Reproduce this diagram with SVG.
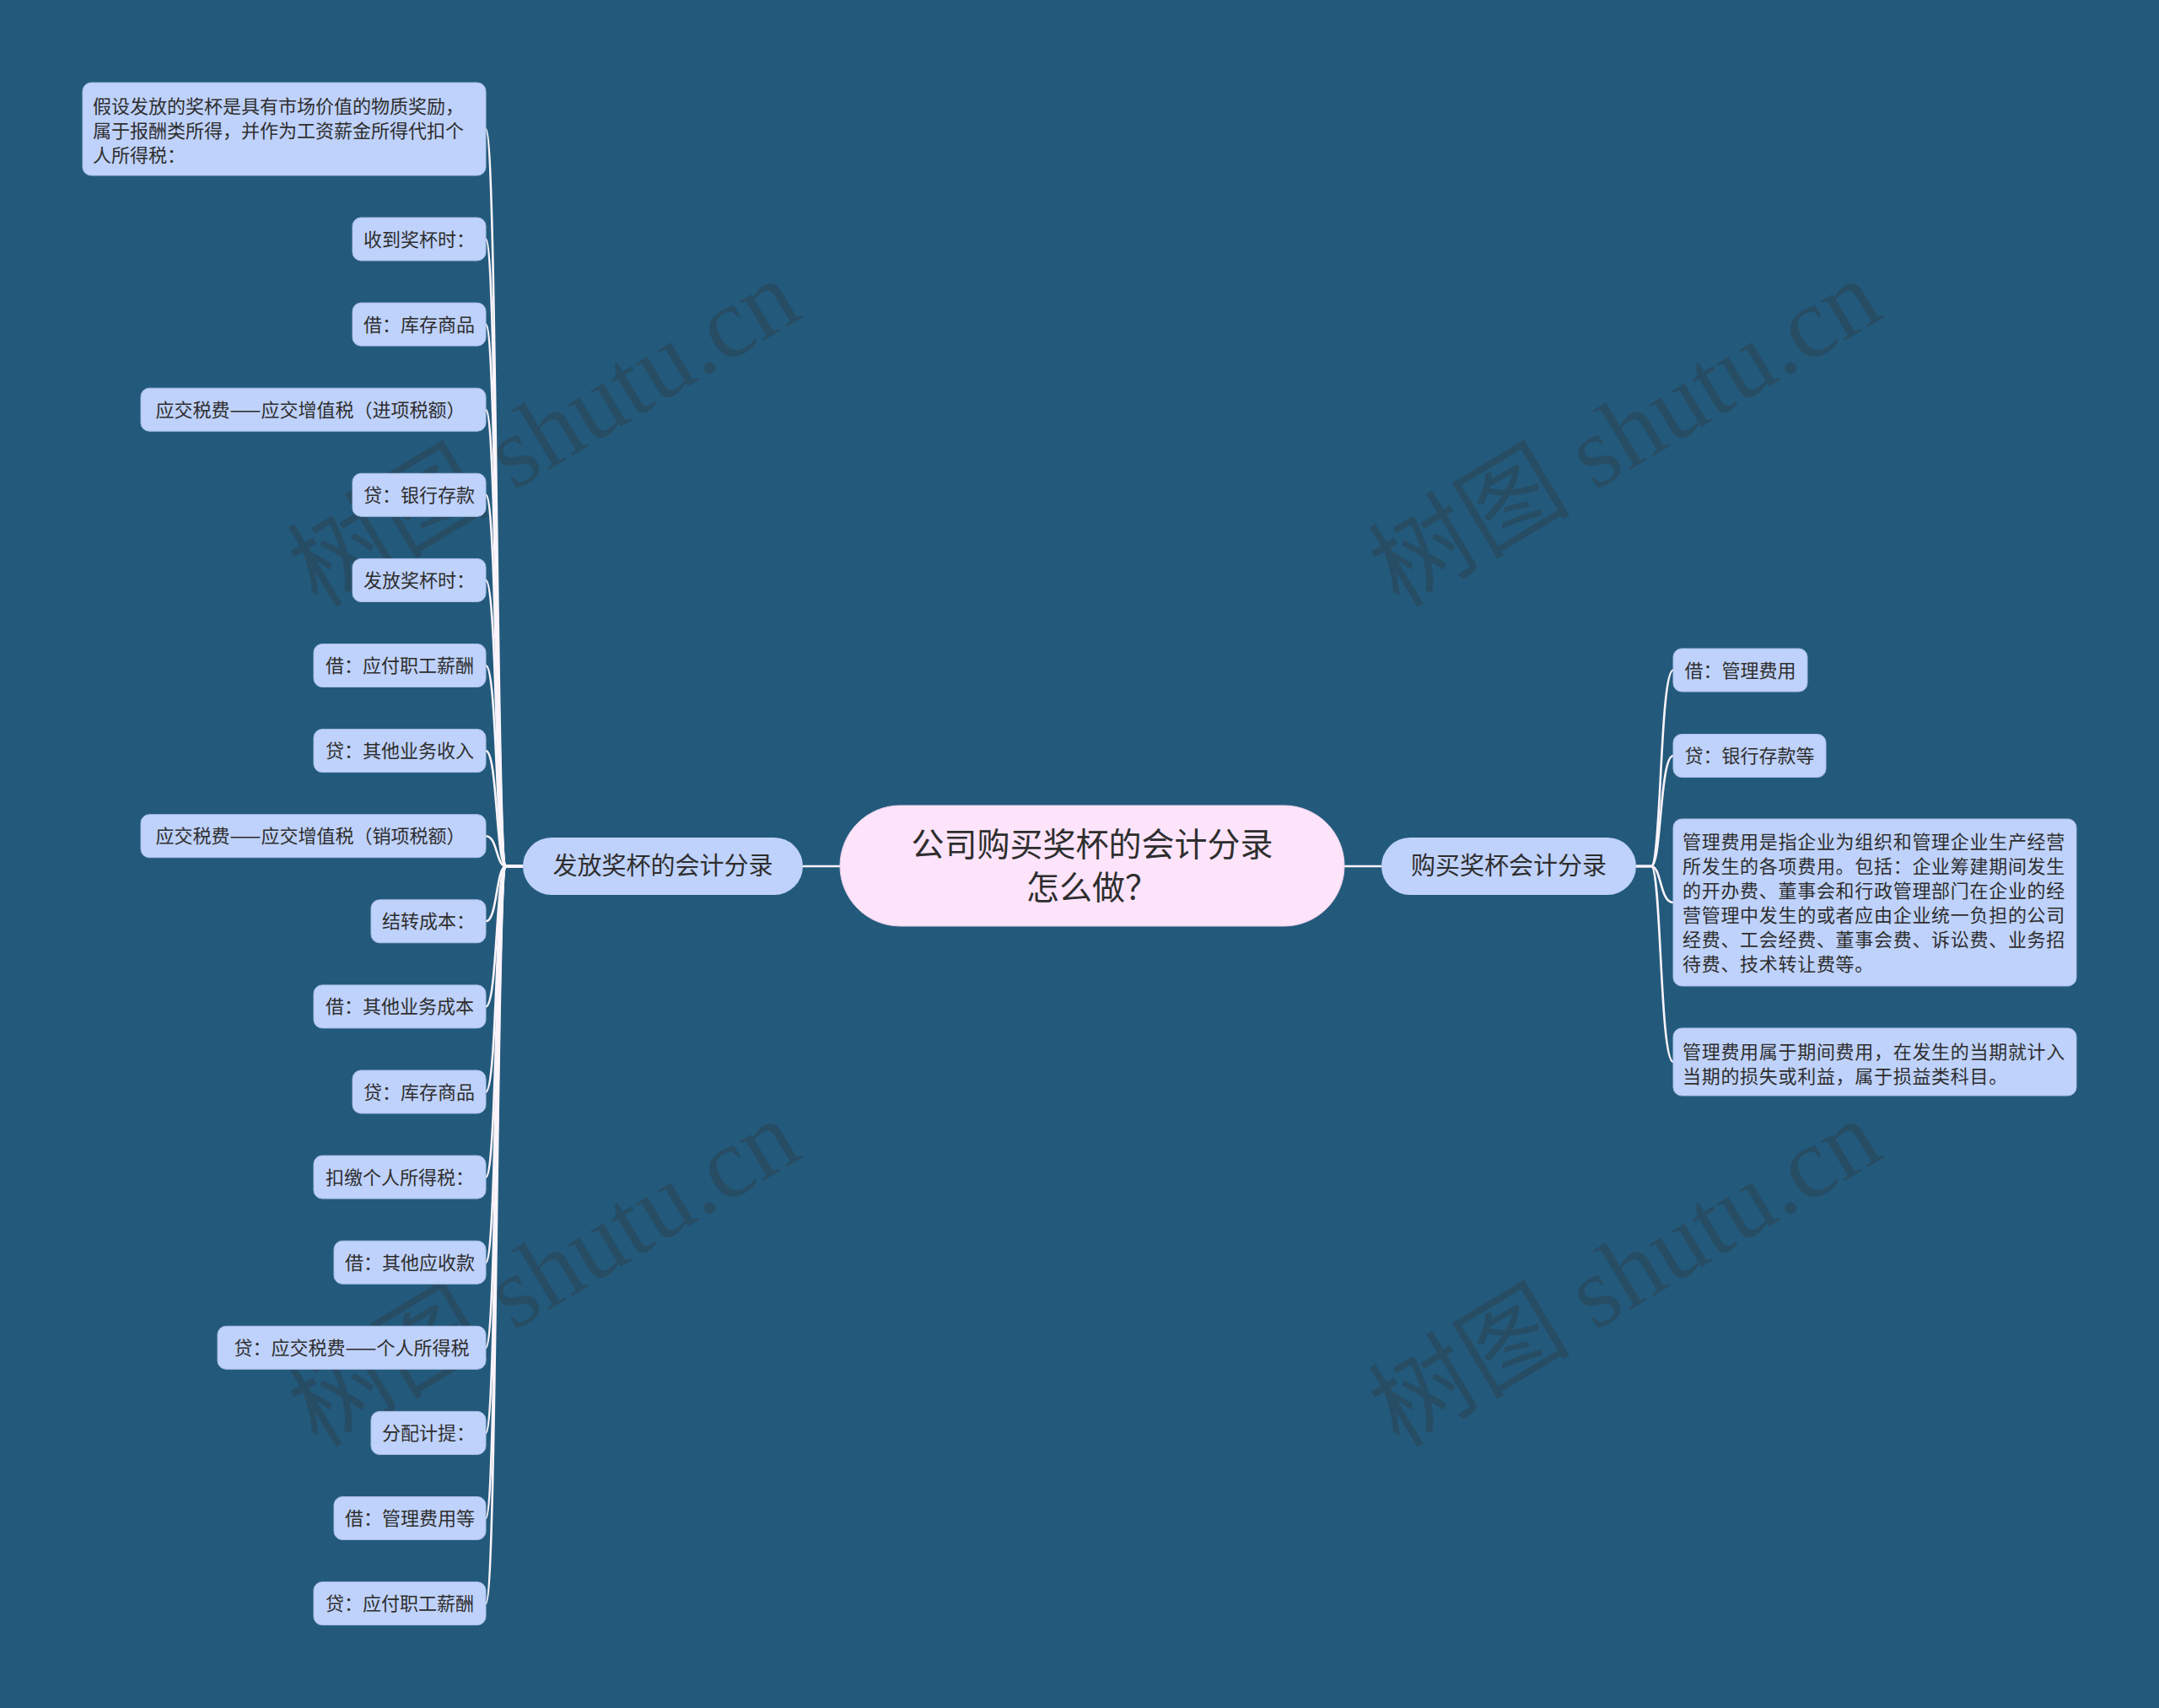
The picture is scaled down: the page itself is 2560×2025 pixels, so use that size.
<svg xmlns="http://www.w3.org/2000/svg" width="2560" height="2025" viewBox="0 0 2560 2025">
<style>
.leaf rect{fill:#bfd2fb;stroke:#a9bfe6;stroke-width:1}
.leaf text,.br text{font-family:"Noto Sans CJK SC","Liberation Sans",sans-serif;font-size:22px;fill:#2e2e2e}
.leaf text.c{text-anchor:middle}
.leaf text.w{letter-spacing:0.7px}
.br rect{fill:#bfd2fb}
.br text{font-size:29px;text-anchor:middle}
.root rect{fill:#fde4fb;stroke:#e9d0ea;stroke-width:1}
.root text{font-family:"Noto Sans CJK SC","Liberation Sans",sans-serif;font-size:39px;fill:#2e2e2e;text-anchor:middle}
.conn path{fill:none;stroke:#fbf4fa;stroke-width:2.6}
.wm{font-family:"Liberation Serif","Noto Sans CJK SC",serif;font-size:120px;fill:#2f3b45;opacity:0.4}
</style>
<rect x="0" y="0" width="2560" height="2025" fill="#235a7c"/>

<g id="watermark">
<text class="wm" transform="translate(645 514) rotate(-31)" text-anchor="middle" y="40">树图 shutu.cn</text>
<text class="wm" transform="translate(1927 514) rotate(-31)" text-anchor="middle" y="40">树图 shutu.cn</text>
<text class="wm" transform="translate(645 1510) rotate(-31)" text-anchor="middle" y="40">树图 shutu.cn</text>
<text class="wm" transform="translate(1927 1510) rotate(-31)" text-anchor="middle" y="40">树图 shutu.cn</text>
</g>

<g id="connectors" class="conn">
<path d="M996 1027 L952 1027"/>
<path d="M1594 1027 L1638 1027" />
<path d="M620 1027 L600 1027 C588 1027 590 153 576 153"/>
<path d="M620 1027 L600 1027 C588 1027 590 283.5 576 283.5"/>
<path d="M620 1027 L600 1027 C588 1027 590 384.6 576 384.6"/>
<path d="M620 1027 L600 1027 C588 1027 590 485.7 576 485.7"/>
<path d="M620 1027 L600 1027 C588 1027 590 586.8 576 586.8"/>
<path d="M620 1027 L600 1027 C588 1027 590 687.9 576 687.9"/>
<path d="M620 1027 L600 1027 C588 1027 590 789 576 789"/>
<path d="M620 1027 L600 1027 C588 1027 590 890.1 576 890.1"/>
<path d="M620 1027 L600 1027 C588 1027 590 991.2 576 991.2"/>
<path d="M620 1027 L600 1027 C588 1027 590 1092.3 576 1092.3"/>
<path d="M620 1027 L600 1027 C588 1027 590 1193.4 576 1193.4"/>
<path d="M620 1027 L600 1027 C588 1027 590 1294.5 576 1294.5"/>
<path d="M620 1027 L600 1027 C588 1027 590 1395.6 576 1395.6"/>
<path d="M620 1027 L600 1027 C588 1027 590 1496.7 576 1496.7"/>
<path d="M620 1027 L600 1027 C588 1027 590 1597.8 576 1597.8"/>
<path d="M620 1027 L600 1027 C588 1027 590 1698.9 576 1698.9"/>
<path d="M620 1027 L600 1027 C588 1027 590 1800 576 1800"/>
<path d="M620 1027 L600 1027 C588 1027 590 1901.1 576 1901.1"/>
<path d="M1940 1027 L1958 1027 C1970 1027 1968 794.5 1984 794.5"/>
<path d="M1940 1027 L1958 1027 C1970 1027 1968 896 1984 896"/>
<path d="M1940 1027 L1958 1027 C1970 1027 1968 1070 1984 1070"/>
<path d="M1940 1027 L1958 1027 C1970 1027 1968 1259 1984 1259"/>
</g>

<g id="root" class="root">
<rect x="996" y="955" width="598" height="143" rx="71.5"/>
<text x="1295" y="1015">公司购买奖杯的会计分录</text>
<text x="1295" y="1066">怎么做？</text>
</g>

<g id="branch-left" class="br">
<rect x="620" y="993" width="332" height="68" rx="34"/>
<text x="786" y="1037">发放奖杯的会计分录</text>
</g>
<g id="branch-right" class="br">
<rect x="1638" y="993" width="302" height="68" rx="34"/>
<text x="1789" y="1037">购买奖杯会计分录</text>
</g>

<g id="n-intro" class="leaf">
<rect x="98" y="98" width="478" height="110" rx="10"/>
<text x="110" y="134">假设发放的奖杯是具有市场价值的物质奖励，</text>
<text x="110" y="163">属于报酬类所得，并作为工资薪金所得代扣个</text>
<text x="110" y="192">人所得税：</text>
</g>
<g id="n1" class="leaf"><rect x="418" y="258" width="158" height="51" rx="10"/><text class="c" x="497" y="291.5">收到奖杯时：</text></g>
<g id="n2" class="leaf"><rect x="418" y="359.1" width="158" height="51" rx="10"/><text class="c" x="497" y="392.6">借：库存商品</text></g>
<g id="n3" class="leaf"><rect x="167" y="460.2" width="409" height="51" rx="10"/><text class="c" x="368" y="493.7">应交税费——应交增值税（进项税额）</text></g>
<g id="n4" class="leaf"><rect x="418" y="561.3" width="158" height="51" rx="10"/><text class="c" x="497" y="594.8">贷：银行存款</text></g>
<g id="n5" class="leaf"><rect x="418" y="662.4" width="158" height="51" rx="10"/><text class="c" x="497" y="695.9">发放奖杯时：</text></g>
<g id="n6" class="leaf"><rect x="372" y="763.5" width="204" height="51" rx="10"/><text class="c" x="474" y="797">借：应付职工薪酬</text></g>
<g id="n7" class="leaf"><rect x="372" y="864.6" width="204" height="51" rx="10"/><text class="c" x="474" y="898.1">贷：其他业务收入</text></g>
<g id="n8" class="leaf"><rect x="167" y="965.7" width="409" height="51" rx="10"/><text class="c" x="368" y="999.2">应交税费——应交增值税（销项税额）</text></g>
<g id="n9" class="leaf"><rect x="440" y="1066.8" width="136" height="51" rx="10"/><text class="c" x="508" y="1100.3">结转成本：</text></g>
<g id="n10" class="leaf"><rect x="372" y="1167.9" width="204" height="51" rx="10"/><text class="c" x="474" y="1201.4">借：其他业务成本</text></g>
<g id="n11" class="leaf"><rect x="418" y="1269" width="158" height="51" rx="10"/><text class="c" x="497" y="1302.5">贷：库存商品</text></g>
<g id="n12" class="leaf"><rect x="372" y="1370.1" width="204" height="51" rx="10"/><text class="c" x="474" y="1403.6">扣缴个人所得税：</text></g>
<g id="n13" class="leaf"><rect x="396" y="1471.2" width="180" height="51" rx="10"/><text class="c" x="486" y="1504.7">借：其他应收款</text></g>
<g id="n14" class="leaf"><rect x="258" y="1572.3" width="318" height="51" rx="10"/><text class="c" x="417" y="1605.8">贷：应交税费——个人所得税</text></g>
<g id="n15" class="leaf"><rect x="440" y="1673.4" width="136" height="51" rx="10"/><text class="c" x="508" y="1706.9">分配计提：</text></g>
<g id="n16" class="leaf"><rect x="396" y="1774.5" width="180" height="51" rx="10"/><text class="c" x="486" y="1808">借：管理费用等</text></g>
<g id="n17" class="leaf"><rect x="372" y="1875.6" width="204" height="51" rx="10"/><text class="c" x="474" y="1909.1">贷：应付职工薪酬</text></g>

<g id="r1" class="leaf"><rect x="1984" y="769" width="159" height="51" rx="10"/><text class="c" x="2063.5" y="802.5">借：管理费用</text></g>
<g id="r2" class="leaf"><rect x="1984" y="870.5" width="181" height="51" rx="10"/><text class="c" x="2074.5" y="904">贷：银行存款等</text></g>
<g id="r3" class="leaf">
<rect x="1984" y="971" width="478" height="198" rx="10"/>
<text class="w" x="1995" y="1006">管理费用是指企业为组织和管理企业生产经营</text>
<text class="w" x="1995" y="1035">所发生的各项费用。包括：企业筹建期间发生</text>
<text class="w" x="1995" y="1064">的开办费、董事会和行政管理部门在企业的经</text>
<text class="w" x="1995" y="1093">营管理中发生的或者应由企业统一负担的公司</text>
<text class="w" x="1995" y="1122">经费、工会经费、董事会费、诉讼费、业务招</text>
<text class="w" x="1995" y="1151">待费、技术转让费等。</text>
</g>
<g id="r4" class="leaf">
<rect x="1984" y="1219" width="478" height="80" rx="10"/>
<text class="w" x="1995" y="1255">管理费用属于期间费用，在发生的当期就计入</text>
<text class="w" x="1995" y="1284">当期的损失或利益，属于损益类科目。</text>
</g>
</svg>
